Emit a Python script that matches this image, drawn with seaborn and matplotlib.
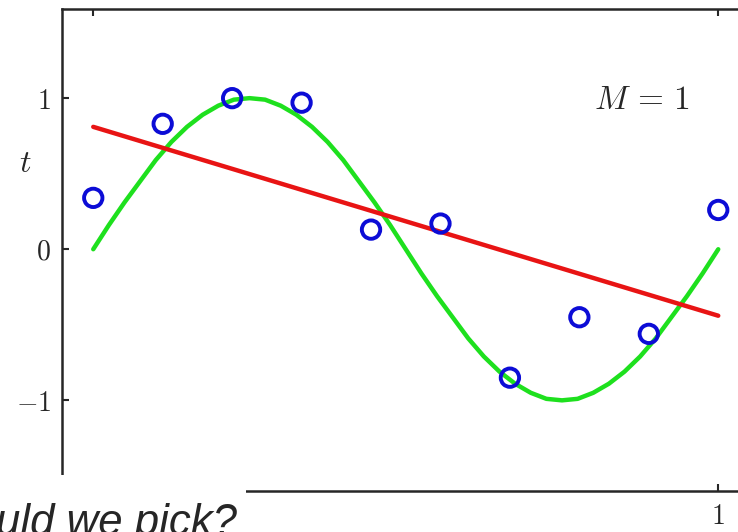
import numpy as np
import pandas as pd
import matplotlib
matplotlib.use("Agg")
import matplotlib.pyplot as plt
from matplotlib.patches import Rectangle
import seaborn as sns

# data
x_points = np.linspace(0, 1, 10)
t_points = [0.34, 0.83, 1.00, 0.97, 0.13, 0.17, -0.85, -0.45, -0.56, 0.26]

x_fit = [0.0, 1.0]
t_fit = [0.81, -0.44]

x_true = np.linspace(0, 1, 41)
t_true = [0.00, 0.16, 0.31, 0.45, 0.59, 0.71, 0.81, 0.89, 0.95, 0.99, 1.00,
          0.99, 0.95, 0.89, 0.81, 0.71, 0.59, 0.45, 0.31, 0.16, 0.00,
          -0.16, -0.31, -0.45, -0.59, -0.71, -0.81, -0.89, -0.95, -0.99, -1.00,
          -0.99, -0.95, -0.89, -0.81, -0.71, -0.59, -0.45, -0.31, -0.16, 0.00]

xtick_vals = [0, 1]
xtick_labels = ["", "$1$"]  # the 0 label sits under the slide's white box
ytick_vals = [-1, 0, 1]

df_pts = pd.DataFrame({"x": x_points, "t": t_points})
df_fit = pd.DataFrame({"x": x_fit, "t": t_fit})
df_true = pd.DataFrame({"x": x_true, "t": t_true})

sns.set_style("ticks")
plt.rcParams["mathtext.fontset"] = "cm"
plt.rcParams["font.family"] = ["DejaVu Serif"]

fig = plt.figure(figsize=(7.38, 5.32), dpi=100)
ax = fig.add_axes([62 / 738, 41 / 532, 687.5 / 738, 482 / 532])

sns.lineplot(data=df_true, x="x", y="t", ax=ax, color="#1ee01e", linewidth=3.2, zorder=2)
sns.lineplot(data=df_fit, x="x", y="t", ax=ax, color="#e81414", linewidth=3.2, zorder=3)
sns.scatterplot(data=df_pts, x="x", y="t", ax=ax, marker="o", s=175,
                facecolor="none", edgecolor="#0c0cd6", linewidth=2.8, zorder=4)

ax.set_xlim(-0.05, 1.05)
ax.set_ylim(-1.6, 1.59)

ax.set_xticks(xtick_vals)
ax.set_xticklabels(xtick_labels)
ax.set_yticks(ytick_vals)
ax.set_yticklabels([f"${v}$" for v in ytick_vals])
ax.tick_params(direction="in", length=5, width=1.5, labelsize=20,
               top=True, right=True)
ax.tick_params(axis="x", pad=9)
ax.tick_params(axis="y", pad=8)
for sp in ax.spines.values():
    sp.set_linewidth(1.8)
    sp.set_visible(True)

ax.set_xlabel("$x$", fontsize=22)
ax.xaxis.set_label_coords(0.836, -0.075)
ax.set_ylabel("$t$", fontsize=23, rotation=0, va="center", ha="center")
ax.yaxis.set_label_coords(-0.054, 0.68)

ax.text(0.878, 0.99, r"$M\,=\,1$", fontsize=24, ha="center", va="center")

# white box from the slide covering the lower left corner
fig.patches.append(Rectangle((0, 0), 246 / 738, 57 / 532, transform=fig.transFigure,
                             facecolor="white", edgecolor="none", zorder=5))
fig.text(-0.006, -3 / 532, "uld we pick?", fontsize=31.5, style="italic",
         family=["Liberation Sans", "DejaVu Sans"], ha="left", va="baseline", zorder=6)

fig.savefig("out.png", dpi=100)
